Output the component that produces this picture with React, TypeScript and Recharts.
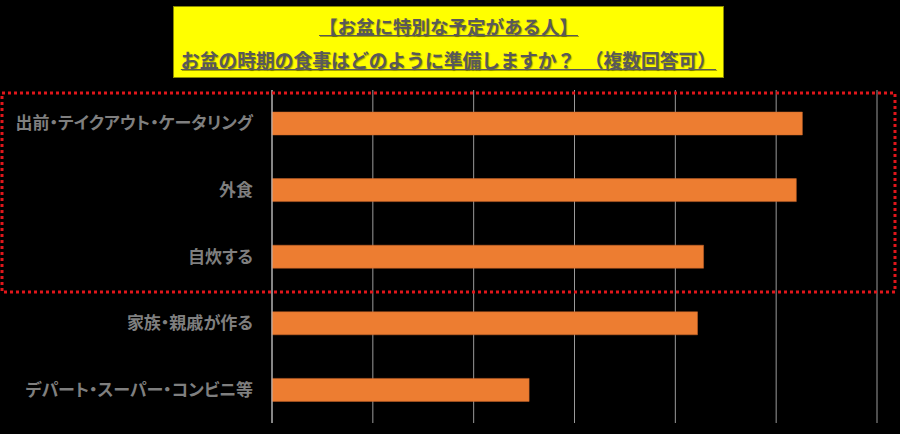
import { BarChart, Bar, XAxis, YAxis, CartesianGrid } from "recharts"

const categories = [
  "出前・テイクアウト・ケータリング",
  "外食",
  "自炊する",
  "家族・親戚が作る",
  "デパート・スーパー・コンビニ等",
]
const shares = [52.6, 52.0, 42.8, 42.2, 25.5]
const xTicks = [0, 10, 20, 30, 40, 50, 60]

const titleLines = ["【お盆に特別な予定がある人】", "お盆の時期の食事はどのように準備しますか？　（複数回答可）"]

const data = categories.map((name, i) => ({ name, value: shares[i] }))

const font = '"Noto Sans CJK JP", "Noto Sans", sans-serif'

export default function App() {
  return (
    <div style={{ position: "absolute", left: 0, top: 0, width: 900, height: 434, background: "#000", fontFamily: font }}>
      <BarChart
        width={900}
        height={434}
        data={data}
        layout="vertical"
        margin={{ top: 90, right: 23, left: 0, bottom: 11 }}
      >
        <CartesianGrid horizontal={false} stroke="#9a9a9a" strokeWidth={1} />
        <XAxis type="number" domain={[0, 60]} ticks={xTicks} hide />
        <YAxis
          type="category"
          dataKey="name"
          width={272}
          axisLine={{ stroke: "#bfbfbf" }}
          tickLine={false}
          tickSize={0}
          tickMargin={19}
          tick={{
            fill: "#7f7f7f",
            fontSize: 17,
            fontWeight: 700,
            fontFamily: font,
            style: { fontFeatureSettings: '"palt"' },
          }}
        />
        <Bar dataKey="value" fill="#ed7d31" stroke="#c8642a" strokeWidth={0.5} barSize={23} isAnimationActive={false} />
      </BarChart>

      <svg width={900} height={434} style={{ position: "absolute", left: 0, top: 0, pointerEvents: "none" }}>
        <rect x={2} y={93} width={893} height={199} fill="none" stroke="#e0161b" strokeWidth={3} strokeDasharray="3 3" />
      </svg>

      <div
        style={{
          position: "absolute",
          left: 173,
          top: 6,
          width: 551,
          height: 72,
          background: "#ffff00",
          border: "1px solid #8a8a00",
          boxSizing: "border-box",
          color: "#595959",
          fontWeight: 700,
          textAlign: "center",
          textShadow: "1px 1px 1px rgba(0,0,0,0.35)",
        }}
      >
        <div style={{ position: "absolute", left: 0, right: 0, top: 7, fontSize: 18.5, lineHeight: "24px", textDecoration: "underline" }}>
          {titleLines[0]}
        </div>
        <div style={{ position: "absolute", left: 0, right: 0, top: 41, fontSize: 18.8, lineHeight: "24px", textDecoration: "underline", whiteSpace: "nowrap" }}>
          {titleLines[1]}
        </div>
      </div>
    </div>
  )
}
